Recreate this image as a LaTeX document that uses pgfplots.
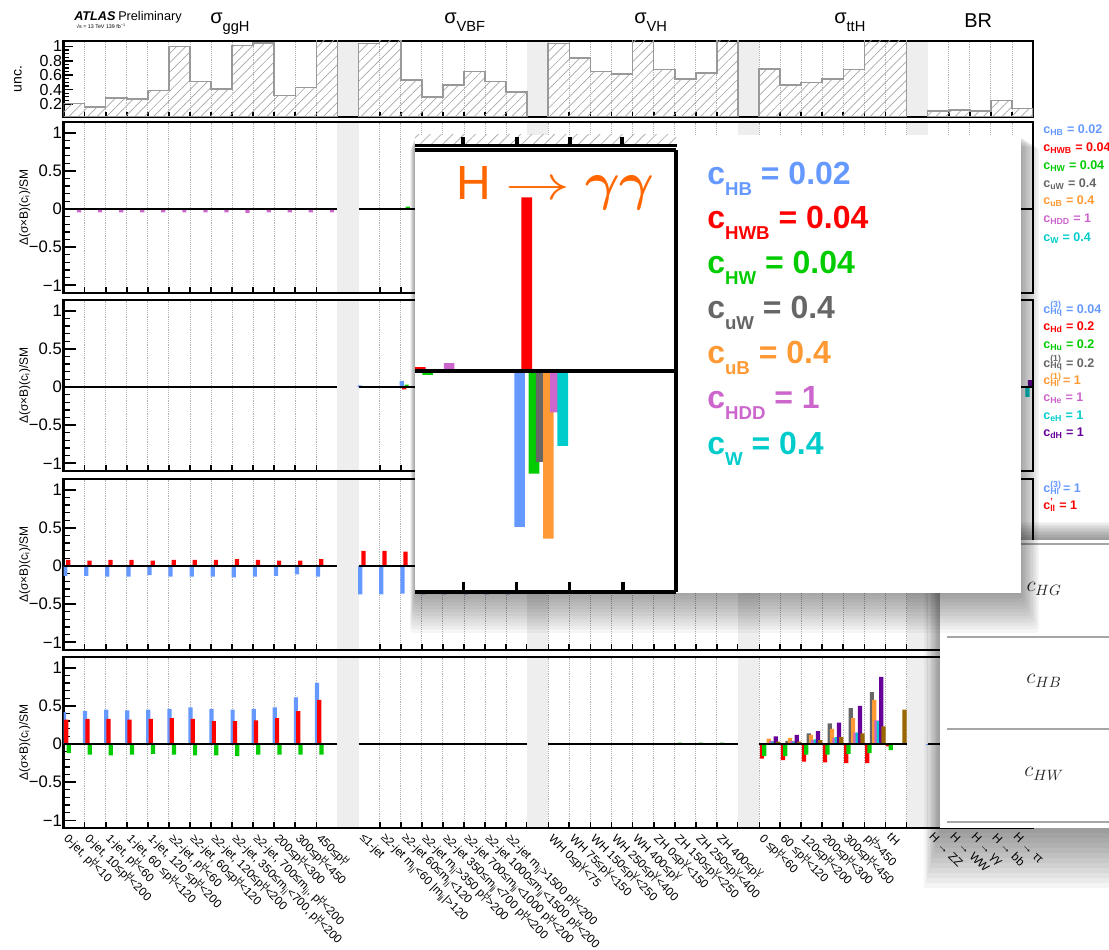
\RequirePackage{fix-cm}
\documentclass[border=0pt]{standalone}
\usepackage{bm}
\usepackage{fontspec}
\setmainfont{Liberation Sans}
\usepackage{pgfplots}
\pgfplotsset{compat=1.18}
\usepackage{pgfplotstable}
\usetikzlibrary{patterns.meta}

\definecolor{cBlue}{RGB}{102,153,255}
\definecolor{cRed}{RGB}{255,0,0}
\definecolor{cGreen}{RGB}{0,204,0}
\definecolor{cGray}{RGB}{102,102,102}
\definecolor{cOrange}{RGB}{255,153,51}
\definecolor{cOrchid}{RGB}{204,102,204}
\definecolor{cCyan}{RGB}{0,204,204}
\definecolor{cPurple}{RGB}{102,0,153}
\definecolor{cBrown}{RGB}{153,102,0}
\definecolor{bandgray}{RGB}{238,238,238}
\definecolor{hgOrange}{RGB}{255,102,0}

\newcommand{\pTx}[1]{p\rlap{\textsuperscript{#1}}\textsubscript{T}}
\newcommand{\mjj}{m\textsubscript{jj}}
\newcommand{\sbar}[4]{\addplot[ybar, bar width=0.2, bar shift=#3, fill=#4, draw=none] table[x=x,y=#2]{#1};}
\newcommand{\band}[2]{\fill[bandgray] ([yshift=1pt]axis cs:#1,\pgfkeysvalueof{/pgfplots/ymin}) rectangle ([yshift=-1pt]axis cs:#2,\pgfkeysvalueof{/pgfplots/ymax});}
\newcommand{\bands}{\band{13}{14}\band{22}{23}\band{32}{33}\band{40}{41}}
\newcommand{\zl}[2]{\draw[line width=2pt] (axis cs:#1,0) -- (axis cs:#2,0);}
\newcommand{\zerolines}{\zl{0}{13}\zl{14}{22}\zl{23}{32}\zl{33}{40}\zl{41}{46}}

% ---------- data ----------
\pgfplotstableread{
x b r g k o m c
0 0 0 0 0 0 -0.045 0
1 0 0 0 0 0 -0.045 0
2 0 0 0 0 0 -0.045 0
3 0 0 0 0 0 -0.045 0
4 0 0 0 0 0 -0.045 0
5 0 0 0 0 0 -0.045 0
6 0 0 0 0 0 -0.045 0
7 0 0 0 0 0 -0.045 0
8 0 0 0 0 0 -0.05 0
9 0 0 0 0 0 -0.045 0
10 0 0 0 0 0 -0.045 0
11 0 0 0 0 0 -0.045 0
12 0 0 0 0 0 -0.045 0
16 0 0 0.03 0 0 0 0
41 0 0.02 -0.02 0 0 0.04 0
43 -0.79 0.88 -0.52 -0.46 -0.85 -0.21 -0.38
}\rowone

\pgfplotstableread{
x b r g k o m c p
14 0.02 0 0 0 0 0 0 0
16 0.08 -0.03 0.03 0 0 0 0 0
45 0 0 0 0 0 0 -0.13 0.09
}\rowtwo

\pgfplotstableread{
x b r
0 -0.13 0.08
1 -0.13 0.07
2 -0.14 0.08
3 -0.14 0.08
4 -0.12 0.07
5 -0.14 0.08
6 -0.14 0.08
7 -0.14 0.08
8 -0.15 0.09
9 -0.14 0.08
10 -0.13 0.07
11 -0.11 0.07
12 -0.14 0.09
14 -0.37 0.20
15 -0.37 0.20
16 -0.36 0.19
17 -0.37 0.20
18 -0.37 0.20
19 -0.37 0.20
20 -0.37 0.20
21 -0.37 0.20
}\rowthree

\pgfplotstableread{
x b r g k o m c p n
0 0.42 0.32 -0.12 0 0 0 0 0 0
1 0.43 0.33 -0.14 0 0 0 0 0 0
2 0.45 0.33 -0.15 0 0 0 0 0 0
3 0.44 0.32 -0.14 0 0 0 0 0 0
4 0.45 0.33 -0.13 0 0 0 0 0 0
5 0.46 0.34 -0.14 0 0 0 0 0 0
6 0.48 0.33 -0.15 0 0 0 0 0 0
7 0.46 0.30 -0.15 0 0 0 0 0 0
8 0.45 0.30 -0.16 0 0 0 0 0 0
9 0.46 0.31 -0.14 0 0 0 0 0 0
10 0.48 0.34 -0.14 0 0 0 0 0 0
11 0.61 0.43 -0.14 0 0 0 0 0 0
12 0.80 0.58 -0.14 0 0 0 0 0 0
29 0 0.01 0.02 0 0 0 0 0 0
30 0 0.01 0.02 0 0 0 0 0 0
31 0 0.01 0.02 0 0 0 0 0 0
33 0 -0.19 -0.16 0 0.07 0.04 0.03 0.10 0.03
34 0 -0.21 -0.16 0.04 0.08 0.04 0.03 0.12 0.03
35 0 -0.23 -0.14 0.14 0.12 0.05 0.06 0.17 0.05
36 0 -0.24 -0.14 0.27 0.20 0.08 0.09 0.28 0.09
37 0 -0.25 -0.13 0.47 0.34 0.15 0.15 0.50 0.14
38 0 -0.25 -0.12 0.68 0.58 0.31 0.30 0.88 0.23
39 0 -0.03 -0.08 0 0 0 0 0 0.45
41 -0.01 0 0.01 0 0 0 0 0 0
}\rowfour

\pgfplotsset{
  rowbase/.style={
    scale only axis, width=727.125pt,
    xmin=0, xmax=46,
    axis line style={line width=2pt},
    tick align=inside,
    xtick pos=left, ytick pos=left,
    xtick={0.5,1.5,...,45.5}, xticklabels={},
    major x tick style={draw=none},
    minor xtick={0,1,...,46},
    minor x tick style={line width=1.3pt, black},
    xminorgrids=true,
    minor x grid style={densely dotted, black!30, line width=0.6pt},
    major tick length=9pt, minor tick length=4.5pt,
    major y tick style={line width=1.3pt, black},
    minor y tick style={line width=1pt, black},
    yticklabel style={font=\fontsize{12.5}{12.5}\selectfont, inner sep=1pt},
    clip=true,
  },
  rowax/.style={rowbase, height=128.25pt, ymin=-1.1, ymax=1.14,
    ytick={-1,-0.5,0,0.5,1}, yticklabels={−1,−0.5,0,0.5,1},
    minor y tick num=4,
    ylabel={Δ(σ×B)(c\textsubscript{i})/SM},
    ylabel style={font=\fontsize{9}{9}\selectfont, at={(axis description cs:-0.040,0.5)}, anchor=center},
  },
  hatchstep/.style={const plot, draw=gray!80, line width=1.2pt,
    pattern={Lines[angle=45,distance=5pt,line width=0.5pt]}, pattern color=gray!70},
}

\newcommand{\rowonebars}{%
  \sbar{\rowone}{b}{0.06}{cBlue}\sbar{\rowone}{r}{0.195}{cRed}\sbar{\rowone}{g}{0.33}{cGreen}%
  \sbar{\rowone}{k}{0.465}{cGray}\sbar{\rowone}{o}{0.6}{cOrange}\sbar{\rowone}{m}{0.735}{cOrchid}%
  \sbar{\rowone}{c}{0.87}{cCyan}}

\begin{document}
\begin{tikzpicture}
\path[use as bounding box] (0,0) rectangle (831.75pt,711.75pt);
\clip (0,0) rectangle (831.75pt,711.75pt);

% ---------------- top uncertainty panel ----------------
\begin{axis}[rowbase, at={(47.625pt,624pt)}, anchor=south west, height=57pt,
  ymin=0.02, ymax=1.075, ytick={0.2,0.4,0.6,0.8,1}, yticklabels={0.2,0.4,0.6,0.8,1},
  minor y tick num=3, major tick length=7pt, minor tick length=4pt,
  yticklabel style={font=\fontsize{12}{10}\selectfont},
  ylabel={unc.}, ylabel style={font=\fontsize{10.5}{10.5}\selectfont, at={(axis description cs:-0.047,0.5)}, anchor=center}]
\bands
\addplot[hatchstep] coordinates {(0,0.21)(1,0.16)(2,0.28)(3,0.27)(4,0.39)(5,1.0)(6,0.51)(7,0.41)(8,1.01)(9,1.045)(10,0.32)(11,0.43)(12,1.2)(13,1.2)} \closedcycle;
\addplot[hatchstep] coordinates {(14,1.04)(15,1.2)(16,0.53)(17,0.30)(18,0.46)(19,0.65)(20,0.51)(21,0.37)(22,0.37)} \closedcycle;
\addplot[hatchstep] coordinates {(23,1.04)(24,0.84)(25,0.65)(26,0.62)(27,1.2)(28,0.68)(29,0.55)(30,0.63)(31,1.2)(32,1.2)} \closedcycle;
\addplot[hatchstep] coordinates {(33,0.69)(34,0.46)(35,0.50)(36,0.55)(37,0.68)(38,1.2)(39,1.2)(40,1.2)} \closedcycle;
\addplot[hatchstep] coordinates {(41,0.10)(42,0.12)(43,0.10)(44,0.25)(45,0.14)(46,0.14)} \closedcycle;
\end{axis}

% ---------------- row 1 ----------------
\begin{axis}[rowax, at={(47.625pt,492pt)}, anchor=south west]
\bands
\rowonebars
\zerolines
\end{axis}

% ---------------- row 2 ----------------
\begin{axis}[rowax, at={(47.625pt,358.5pt)}, anchor=south west]
\bands
\sbar{\rowtwo}{b}{0.05}{cBlue}\sbar{\rowtwo}{r}{0.165}{cRed}\sbar{\rowtwo}{g}{0.28}{cGreen}
\sbar{\rowtwo}{k}{0.395}{cGray}\sbar{\rowtwo}{o}{0.51}{cOrange}\sbar{\rowtwo}{m}{0.625}{cOrchid}
\sbar{\rowtwo}{c}{0.74}{cCyan}\sbar{\rowtwo}{p}{0.855}{cPurple}
\zerolines
\end{axis}

% ---------------- row 3 ----------------
\begin{axis}[rowax, at={(47.625pt,224.25pt)}, anchor=south west]
\bands
\sbar{\rowthree}{b}{0.08}{cBlue}\sbar{\rowthree}{r}{0.23}{cRed}
\zerolines
\end{axis}

% ---------------- row 4 ----------------
\begin{axis}[rowax, at={(47.625pt,90.75pt)}, anchor=south west,
  xticklabel style={rotate=-45, anchor=north west, font=\fontsize{8.9}{8.9}\selectfont, inner sep=0pt, xshift=0pt, yshift=-4pt},
  xticklabels={
  {0-jet, \pTx{H}<10},
  {0-jet, 10≤\pTx{H}<200},
  {1-jet, \pTx{H}<60},
  {1-jet, 60 ≤\pTx{H}<120},
  {1-jet, 120 ≤\pTx{H}<200},
  {≥2-jet, \pTx{H}<60},
  {≥2-jet, 60≤\pTx{H}<120},
  {≥2-jet, 120≤\pTx{H}<200},
  {≥2-jet, 350≤\mjj<700, \pTx{H}<200},
  {≥2-jet, 700≤\mjj, \pTx{H}<200},
  {200≤\pTx{H}<300},
  {300≤\pTx{H}<450},
  {450≤\pTx{H}},
  {},
  {≤1-jet},
  {≥2-jet \mjj<60 |\mjj|>120},
  {≥2-jet 60≤\mjj<120},
  {≥2-jet \mjj>350 \pTx{H}>200},
  {≥2-jet 350≤\mjj<700 \pTx{H}<200},
  {≥2-jet 700≤\mjj<1000 \pTx{H}<200},
  {≥2-jet 1000≤\mjj<1500 \pTx{H}<200},
  {≥2-jet \mjj>1500 \pTx{H}<200},
  {},
  {WH 0≤\pTx{V}<75}, {WH 75≤\pTx{V}<150}, {WH 150≤\pTx{V}<250}, {WH 250≤\pTx{V}<400}, {WH 400≤\pTx{V}},
  {ZH 0≤\pTx{V}<150}, {ZH 150≤\pTx{V}<250}, {ZH 250≤\pTx{V}<400}, {ZH 400≤\pTx{V}},
  {},
  {0 ≤\pTx{H}<60}, {60 ≤\pTx{H}<120}, {120≤\pTx{H}<200}, {200≤\pTx{H}<300}, {300≤\pTx{H}<450}, {\pTx{H}>450}, {tH},
  {},
  {H → ZZ}, {H → WW}, {H → γγ}, {H → bb}, {H → ττ}}]
\bands
\sbar{\rowfour}{b}{0.025}{cBlue}\sbar{\rowfour}{r}{0.135}{cRed}\sbar{\rowfour}{g}{0.245}{cGreen}
\sbar{\rowfour}{k}{0.355}{cGray}\sbar{\rowfour}{o}{0.465}{cOrange}\sbar{\rowfour}{m}{0.575}{cOrchid}
\sbar{\rowfour}{c}{0.685}{cCyan}\sbar{\rowfour}{p}{0.795}{cPurple}\sbar{\rowfour}{n}{0.905}{cBrown}
\zerolines
\end{axis}

% ---------------- titles, legends, table overlay (pixel coordinates) ----------------
\begin{scope}[x=0.75pt,y=-0.75pt,yshift=711.75pt]
\node[anchor=base west, inner sep=0] at (74,21) {\fontsize{9.5}{9.5}\selectfont\bfseries\itshape ATLAS};
\node[anchor=base west, inner sep=0] at (118,21) {\fontsize{9.5}{9.5}\selectfont Preliminary};
\node[anchor=base west, inner sep=0] at (76,29) {\fontsize{4}{4}\selectfont √s = 13 TeV 139 fb\textsuperscript{−1}};
\node[anchor=base west, inner sep=0] at (210,24) {\fontsize{15}{15}\selectfont σ\raisebox{-5.5pt}{\fontsize{11}{11}\selectfont ggH}};
\node[anchor=base west, inner sep=0] at (444,24) {\fontsize{15}{15}\selectfont σ\raisebox{-5.5pt}{\fontsize{11}{11}\selectfont VBF}};
\node[anchor=base west, inner sep=0] at (634,24) {\fontsize{15}{15}\selectfont σ\raisebox{-5.5pt}{\fontsize{11}{11}\selectfont VH}};
\node[anchor=base west, inner sep=0] at (834,24) {\fontsize{15}{15}\selectfont σ\raisebox{-5.5pt}{\fontsize{11}{11}\selectfont ttH}};
\node[anchor=base west, inner sep=0] at (964,28) {\fontsize{15}{15}\selectfont BR};

\newcommand{\leg}[3]{\node[anchor=west, inner sep=0, text=#3] at (1043,#2) {\fontsize{9.4}{9.4}\selectfont\bfseries #1};}
\leg{c\textsubscript{HB} = 0.02}{130}{cBlue}
\leg{c\textsubscript{HWB} = 0.04}{148}{cRed}
\leg{c\textsubscript{HW} = 0.04}{166}{cGreen}
\leg{c\textsubscript{uW} = 0.4}{184}{cGray}
\leg{c\textsubscript{uB} = 0.4}{201}{cOrange}
\leg{c\textsubscript{HDD} = 1}{219}{cOrchid}
\leg{c\textsubscript{W} = 0.4}{238}{cCyan}
\leg{c\rlap{\textsuperscript{(3)}}\textsubscript{Hq} = 0.04}{309}{cBlue}
\leg{c\textsubscript{Hd} = 0.2}{327}{cRed}
\leg{c\textsubscript{Hu} = 0.2}{345}{cGreen}
\leg{c\rlap{\textsuperscript{(1)}}\textsubscript{Hq} = 0.2}{363}{cGray}
\leg{c\rlap{\textsuperscript{(1)}}\textsubscript{Hl} = 1}{380}{cOrange}
\leg{c\textsubscript{He} = 1}{398}{cOrchid}
\leg{c\textsubscript{eH} = 1}{416}{cCyan}
\leg{c\textsubscript{dH} = 1}{433}{cPurple}
\leg{c\rlap{\textsuperscript{(3)}}\textsubscript{Hl} = 1}{488}{cBlue}
\leg{c\rlap{\textsuperscript{'}}\textsubscript{ll} = 1}{505}{cRed}

% table overlay (beneath the popup)
\foreach \i in {1,...,12}{
  \fill[black, opacity=0.04] (940-1.3*\i, 540-1.5*\i) rectangle (1115, 828+5*\i);
}
\fill[white] (940,540) rectangle (1115,828);
\foreach \yy in {544,637,729,822} {\draw[gray!70, line width=1.6pt] (947,\yy) -- (1115,\yy);}
\node[text=black!85] at (1044,589) {\fontsize{16}{16}\selectfont $c_{HG}$};
\node[text=black!85] at (1044,681) {\fontsize{16}{16}\selectfont $c_{HB}$};
\node[text=black!85] at (1044,774) {\fontsize{16}{16}\selectfont $c_{HW}$};

% popup shadow and body
\foreach \i in {1,...,12}{
  \fill[black, opacity=0.035, rounded corners=3pt] (415-0.4*\i, 135+1.0*\i) rectangle (1020+1.6*\i, 592+3.4*\i);
}
\fill[white] (415,135) rectangle (1021,593);
\fill[pattern={Lines[angle=45,distance=6pt,line width=0.6pt]}, pattern color=gray!60] (415,135) rectangle (676,145);
\draw[line width=2.4pt] (415,145.5) -- (677,145.5);
\foreach \xx in {463,517,570,622} {\draw[line width=2.4pt] (\xx,145.5) -- (\xx,137);}
\end{scope}

% ---------------- popup zoomed axis (H -> gamma gamma) ----------------
\begin{axis}[at={(311.25pt,267.75pt)}, anchor=south west, scale only axis,
  width=195.75pt, height=331.5pt,
  xmin=41.094, xmax=46, ymin=-1.12, ymax=1.12,
  separate axis lines, axis x line*=box, axis y line*=right,
  axis line style={line width=2.6pt},
  ytick=\empty, xtick={42,43,44,45}, xticklabels={}, xtick pos=left, tick align=inside,
  major tick length=7.5pt, major x tick style={line width=2.6pt, black}, clip=true]
\rowonebars
\draw[line width=3pt] (axis cs:41,0) -- (axis cs:46,0);
\end{axis}

\begin{scope}[x=0.75pt,y=-0.75pt,yshift=711.75pt]
\node[anchor=base west, inner sep=0, text=hgOrange] at (456,200)
  {\fontsize{36}{36}\selectfont H\hspace{11pt}\scalebox{1.35}[1]{$\rightarrow$}\hspace{11pt}{\fontsize{40}{40}\selectfont$\bm{\gamma\gamma}$}};
\newcommand{\bigleg}[4]{\node[anchor=base west, inner sep=0, text=#4] at (707,#3)
  {\fontsize{24}{24}\selectfont\bfseries c\raisebox{-8pt}{\fontsize{14}{14}\selectfont #1} = #2};}
\bigleg{HB}{0.02}{185}{cBlue}
\bigleg{HWB}{0.04}{229}{cRed}
\bigleg{HW}{0.04}{274}{cGreen}
\bigleg{uW}{0.4}{319}{cGray}
\bigleg{uB}{0.4}{364}{cOrange}
\bigleg{HDD}{1}{409}{cOrchid}
\bigleg{W}{0.4}{455}{cCyan}
\end{scope}
\end{tikzpicture}
\end{document}
